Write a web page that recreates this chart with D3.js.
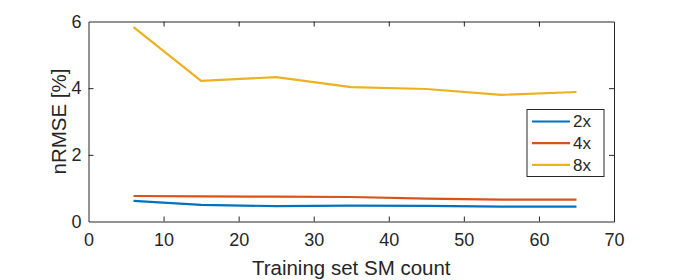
<!DOCTYPE html>
<html>
<head>
<meta charset="utf-8">
<script src="https://cdn.jsdelivr.net/npm/d3@7"></script>
<style>
  body { margin: 0; background: #fff; }
  text { font-family: "Liberation Sans", Arial, sans-serif; fill: #262626; }
</style>
</head>
<body>
<div id="root"></div>
<script>
// Data
const smCount = [6, 15, 25, 35, 45, 55, 65];
const err2x = [0.62, 0.50, 0.46, 0.475, 0.47, 0.445, 0.445];
const err4x = [0.765, 0.755, 0.745, 0.735, 0.685, 0.655, 0.655];
const err8x = [5.83, 4.22, 4.33, 4.03, 3.975, 3.80, 3.885];
const seriesNames = ["2x", "4x", "8x"];
const xTicks = [0, 10, 20, 30, 40, 50, 60, 70];
const yTicks = [0, 2, 4, 6];

const colors = ["#0072BD", "#D95319", "#EDB120"];
const series = [err2x, err4x, err8x].map((vals, i) => ({
    name: seriesNames[i],
    color: colors[i],
    points: smCount.map((c, j) => ({ x: c, y: vals[j] }))
}));

// Margin convention
const W = 680, H = 280;
const margin = { top: 21.5, right: 66, bottom: 58.5, left: 88.5 },
    width = W - margin.left - margin.right,
    height = H - margin.top - margin.bottom;

const svg = d3.select("#root")
    .append("svg")
    .attr("width", W)
    .attr("height", H);

const g = svg.append("g")
    .attr("transform", "translate(" + margin.left + "," + margin.top + ")");

const x = d3.scaleLinear().domain([0, 70]).range([0, width]);
const y = d3.scaleLinear().domain([0, 6]).range([height, 0]);

// lines
const line = d3.line().x(d => x(d.x)).y(d => y(d.y));
g.selectAll(".series")
    .data(series)
    .enter()
    .append("path")
    .attr("d", d => line(d.points))
    .attr("fill", "none")
    .attr("stroke", d => d.color)
    .attr("stroke-width", 2.2);

// axes, ticks inside, mirrored on top/right
const tickLen = 5;
const axisColor = "#262626";
const fmt = d3.format("d");

const xb = g.append("g")
    .attr("transform", "translate(0," + height + ")")
    .call(d3.axisBottom(x).tickValues(xTicks).tickFormat(fmt).tickSizeInner(-tickLen).tickSizeOuter(0).tickPadding(12));
const xt = g.append("g")
    .call(d3.axisTop(x).tickValues(xTicks).tickSizeInner(-tickLen).tickSizeOuter(0).tickFormat(""));
const yl = g.append("g")
    .call(d3.axisLeft(y).tickValues(yTicks).tickFormat(fmt).tickSizeInner(-tickLen).tickSizeOuter(0).tickPadding(7));
const yr = g.append("g")
    .attr("transform", "translate(" + width + ",0)")
    .call(d3.axisRight(y).tickValues(yTicks).tickSizeInner(-tickLen).tickSizeOuter(0).tickFormat(""));

[xb, xt, yl, yr].forEach(a => {
    a.selectAll("path").attr("stroke", axisColor).attr("stroke-width", 1);
    a.selectAll("line").attr("stroke", axisColor).attr("stroke-width", 1);
    a.selectAll("text")
        .style("font-family", "'Liberation Sans', Arial, sans-serif")
        .style("font-size", "18px")
        .attr("fill", axisColor);
});
// hide end ticks on the frame edges
xb.selectAll(".tick").filter(d => d === 0 || d === 70).select("line").remove();
xt.selectAll(".tick").filter(d => d === 0 || d === 70).select("line").remove();
yl.selectAll(".tick").filter(d => d === 0 || d === 6).select("line").remove();
yr.selectAll(".tick").filter(d => d === 0 || d === 6).select("line").remove();

// axis labels
svg.append("text")
    .attr("x", margin.left + width / 2)
    .attr("y", 275)
    .attr("text-anchor", "middle")
    .style("font-size", "20.5px")
    .text("Training set SM count");

svg.append("text")
    .attr("transform", "translate(65.5," + (margin.top + height / 2) + ")rotate(-90)")
    .attr("text-anchor", "middle")
    .style("font-size", "20.5px")
    .text("nRMSE [%]");

// Legend
const legend = svg.append("g").attr("transform", "translate(527,109.5)");
legend.append("rect")
    .attr("width", 77)
    .attr("height", 67)
    .attr("fill", "#fff")
    .attr("stroke", axisColor)
    .attr("stroke-width", 1);

const rows = legend.selectAll(".row")
    .data(series)
    .enter()
    .append("g")
    .attr("transform", (d, i) => "translate(0," + (12 + i * 21.7) + ")");
rows.append("line")
    .attr("x1", 5).attr("x2", 43)
    .attr("stroke", d => d.color)
    .attr("stroke-width", 2.2);
rows.append("text")
    .attr("x", 46)
    .attr("dy", "0.35em")
    .style("font-size", "17px")
    .text(d => d.name);
</script>
</body>
</html>
